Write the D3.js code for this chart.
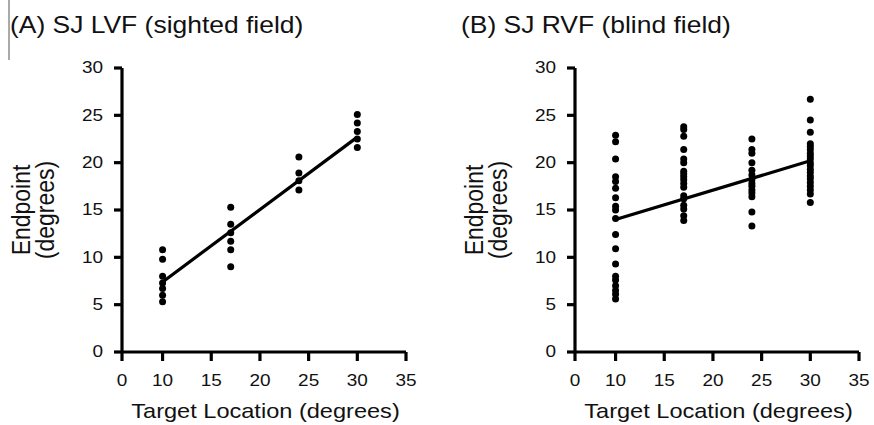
<!DOCTYPE html>
<html>
<head>
<meta charset="utf-8">
<script src="https://cdn.jsdelivr.net/npm/d3@7"></script>
<style>
  body { margin: 0; background: #fff; }
  text { font-family: "Liberation Sans", Arial, Helvetica, sans-serif; fill: #111; }
  .axis path, .axis line { stroke: #000; stroke-width: 3.2px; }
</style>
</head>
<body>
<svg id="chart" width="874" height="425"></svg>
<script>
// tick labels (the x axis jumps from 0 straight to 10)
var xTicks = [0, 10, 15, 20, 25, 30, 35];
var yTicks = [0, 5, 10, 15, 20, 25, 30];

// (A) sighted field: target locations and endpoints at each
var targetsA = [10, 17, 24, 30];
var endpointsA = [
    [10.8, 9.8, 8.0, 7.3, 6.7, 6.0, 5.3],
    [15.3, 13.5, 12.6, 11.7, 10.8, 9.0],
    [20.6, 18.9, 18.1, 17.1],
    [25.1, 24.2, 23.3, 22.5, 21.6]
];
var fitA = [[10, 7.4], [30, 22.7]];

// (B) blind field
var targetsB = [10, 17, 24, 30];
var endpointsB = [
    [22.9, 22.2, 20.4, 18.5, 18.0, 17.3, 16.3, 15.4, 15.0, 14.1, 12.4, 10.9, 9.3, 8.0, 7.6, 7.0, 6.5, 6.1, 5.6],
    [23.8, 23.5, 22.8, 21.4, 20.4, 20.0, 19.1, 18.8, 18.5, 18.2, 17.8, 17.4, 16.5, 16.2, 15.5, 15.1, 14.4, 13.9],
    [22.5, 21.4, 21.0, 20.0, 19.2, 18.7, 18.2, 17.8, 17.5, 17.1, 16.8, 16.4, 14.8, 13.3],
    [26.7, 24.5, 23.2, 22.0, 21.7, 21.4, 21.0, 20.7, 20.4, 20.0, 19.7, 19.3, 19.0, 18.6, 18.3, 17.9, 17.5, 17.1, 16.7, 15.8]
];
var fitB = [[10, 14.0], [30, 20.2]];

var svg = d3.select('#chart');
var SX = 1.15; // the source lettering is a little wide

var w = 284, h = 284;

// little artefact line at the left edge of the scan
svg.append('line')
    .attr('x1', 9).attr('x2', 9).attr('y1', 0).attr('y2', 60)
    .attr('stroke', '#555').attr('stroke-width', 1);

function drawPanel(left, title, titleX, targets, endpoints, fit) {
    var x = d3.scaleLinear().domain([0, 10, 35]).range([0, w / 7, w]);
    var y = d3.scaleLinear().domain([0, 30]).range([h, 0]);

    svg.append('text')
        .attr('transform', 'translate(' + titleX + ',33) scale(' + SX + ',1)')
        .attr('font-size', 23)
        .text(title);

    var g = svg.append('g').attr('transform', 'translate(' + left + ',68)');

    var yAxis = g.append('g')
        .attr('class', 'axis')
        .call(d3.axisLeft(y).tickValues(yTicks).tickSize(8).tickSizeOuter(0).offset(0));
    yAxis.selectAll('text')
        .attr('x', -19 / SX)
        .attr('transform', 'scale(' + SX + ',1)')
        .attr('font-size', 16.5);

    var xAxis = g.append('g')
        .attr('class', 'axis')
        .attr('transform', 'translate(0,' + h + ')')
        .call(d3.axisBottom(x).tickValues(xTicks).tickSize(9).tickSizeOuter(0).offset(0));
    xAxis.selectAll('text')
        .attr('y', 34.5).attr('dy', 0)
        .attr('transform', 'scale(' + SX + ',1)')
        .attr('font-size', 16.5);

    g.append('text')
        .attr('transform', 'translate(' + (w / 2 + 1.5) + ',' + (h + 66) + ') scale(' + SX + ',1)')
        .attr('text-anchor', 'middle')
        .attr('font-size', 20.5)
        .text('Target Location (degrees)');

    var yl = g.append('g')
        .attr('transform', 'translate(-92,' + (h / 2) + ') scale(' + SX + ',1) rotate(-90)');
    yl.append('text').attr('text-anchor', 'middle').attr('y', 0).attr('font-size', 23).text('Endpoint');
    yl.append('text').attr('text-anchor', 'middle').attr('y', 21).attr('font-size', 23).text('(degrees)');

    var pts = [];
    targets.forEach(function (t, i) {
        endpoints[i].forEach(function (v) { pts.push([t, v]); });
    });

    g.selectAll('circle.pt')
        .data(pts).enter().append('circle')
        .attr('class', 'pt')
        .attr('cx', function (d) { return x(d[0]); })
        .attr('cy', function (d) { return y(d[1]); })
        .attr('r', 3.5)
        .attr('fill', '#000');

    g.append('path')
        .datum(fit)
        .attr('fill', 'none')
        .attr('stroke', '#000')
        .attr('stroke-width', 3.2)
        .attr('d', d3.line().x(function (d) { return x(d[0]); }).y(function (d) { return y(d[1]); }));
}

drawPanel(122, '(A) SJ LVF (sighted field)', 10, targetsA, endpointsA, fitA);
drawPanel(575, '(B) SJ RVF (blind field)', 461, targetsB, endpointsB, fitB);
</script>
</body>
</html>
